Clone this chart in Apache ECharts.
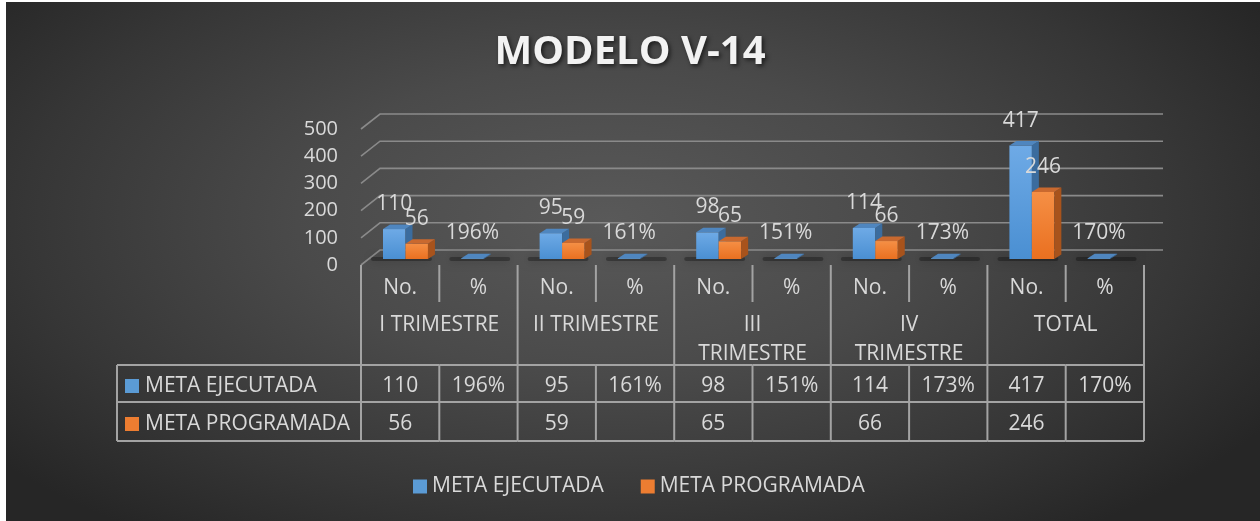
<!DOCTYPE html>
<html>
<head>
<meta charset="utf-8">
<script src="https://cdn.jsdelivr.net/npm/echarts@6/dist/echarts.min.js"></script>
<style>
  html, body { margin: 0; padding: 0; background: #ffffff; }
  #bg { position: absolute; left: 6px; top: 2px; width: 1254px; height: 519px;
        background: radial-gradient(ellipse 62% 75% at 48% 42%, #595959 0%, #4a4a4a 40%, #363636 75%, #262626 100%); }
  #main { position: absolute; left: 0; top: 0; width: 1260px; height: 521px; }
</style>
</head>
<body>
<div id="bg"></div>
<div id="main"></div>
<script>
// ---- data ----
const title = 'MODELO V-14';
const categories = ['No.', '%', 'No.', '%', 'No.', '%', 'No.', '%', 'No.', '%'];
const groups = ['I TRIMESTRE', 'II TRIMESTRE', 'III\nTRIMESTRE', 'IV\nTRIMESTRE', 'TOTAL'];
const seriesNames = ['META EJECUTADA', 'META PROGRAMADA'];
const ejecutada = [110, 1.96, 95, 1.61, 98, 1.51, 114, 1.73, 417, 1.70];
const programada = [56, null, 59, null, 65, null, 66, null, 246, null];
const yTicks = [0, 100, 200, 300, 400, 500];

// ---- styles ----
const FONT = '"Open Sans", "Noto Sans", sans-serif';
const FS = 21;
const TXT = '#d9d9d9';
const LINE = '#a3a3a3';
const GRIDC = '#8a8a8a';
const colors = [
  { front: ['#6eaae6', '#4a8fd2'], top: '#4f86bf', side: '#3b6c9e', key: '#5b9bd5' },
  { front: ['#f58f45', '#ea7020'], top: '#c9692f', side: '#a8531c', key: '#ed7d31' }
];
const DX = 7, DY = 4.5;

function isPct(i) { return categories[i] === '%'; }
function fmt(v, i) {
  if (v === null || v === undefined) return '';
  return isPct(i) ? Math.round(v * 100) + '%' : String(v);
}
const allSeries = [ejecutada, programada];

function barRender(s) {
  return function (params, api) {
    const i = api.value(0), v = api.value(1);
    const base = api.coord([i, 0]);
    const top = api.coord([i, v]);
    const bw = api.size([1, 0])[0];
    const w = bw * 0.287;
    const x0 = base[0] - bw * 0.316 + s * w;
    const x1 = x0 + w;
    const yT = Math.min(top[1], base[1] - 0.8);
    const yB = base[1];
    const c = colors[s];
    const children = [];
    if (s === 0) {
      children.push({
        type: 'rect',
        shape: { x: x0 - 12, y: yB - 2, width: w * 2 + 16, height: 4, r: 2 },
        style: { fill: 'rgba(0,0,0,0.3)', shadowBlur: 10, shadowColor: 'rgba(0,0,0,0.75)' }
      });
    }
    children.push({
      type: 'rect', shape: { x: x0, y: yT, width: w, height: yB - yT },
      style: { fill: new echarts.graphic.LinearGradient(0, 0, 0, 1, [
        { offset: 0, color: c.front[0] }, { offset: 1, color: c.front[1] }]) }
    });
    children.push({
      type: 'polygon',
      shape: { points: [[x1, yT], [x1 + DX, yT - DY], [x1 + DX, yB - DY], [x1, yB]] },
      style: { fill: c.side }
    });
    children.push({
      type: 'polygon',
      shape: { points: [[x0, yT], [x1, yT], [x1 + DX, yT - DY], [x0 + DX, yT - DY]] },
      style: { fill: c.top }
    });
    children.push({
      type: 'text',
      style: { text: fmt(allSeries[s][i], i), x: x0 + w / 2, y: yT - 25,
        align: 'center', verticalAlign: 'middle', fill: TXT, fontSize: FS, fontFamily: FONT }
    });
    return { type: 'group', children: children };
  };
}

function gridRender(params, api) {
  const v = api.value(1);
  const p = api.coord([0, v]);
  const cs = params.coordSys;
  const y = p[1];
  const x0 = cs.x, x1 = cs.x + cs.width;
  return {
    type: 'polyline',
    shape: { points: [[x0, y], [x0 + 19, y - 15], [x1 + 19, y - 15]] },
    style: { stroke: GRIDC, lineWidth: 1.6, fill: null }
  };
}

function tableRender(params, api) {
  const i = api.value(0);
  const c = api.coord([i, 0]);
  const bw = api.size([1, 0])[0];
  const xl = c[0] - bw / 2, xr = c[0] + bw / 2;
  const y0 = c[1];
  const yH = y0 + 37, yR1 = y0 + 100, yR2 = y0 + 137, yR3 = y0 + 176;
  const ls = { stroke: LINE, lineWidth: 2 };
  const ch = [];
  const vline = (x, a, b) => ch.push({ type: 'line', shape: { x1: x, y1: a, x2: x, y2: b }, style: ls });
  const hline = (a, b, y) => ch.push({ type: 'line', shape: { x1: a, y1: y, x2: b, y2: y }, style: ls });
  const text = (t, x, y, align, va) => ch.push({ type: 'text', style: { text: t, x: x, y: y,
    align: align || 'center', verticalAlign: va || 'middle', fill: TXT, fontSize: FS, fontFamily: FONT, lineHeight: 29 } });
  if (i % 2 === 0) {
    vline(xl, y0, yR3);
    text(groups[i / 2], xr, y0 + 46, 'center', 'top');
  } else {
    vline(xl, y0, yH);
    vline(xl, yR1, yR3);
  }
  if (i === categories.length - 1) vline(xr, y0, yR3);
  hline(xl, xr, yR1); hline(xl, xr, yR2); hline(xl, xr, yR3);
  text(categories[i], c[0], y0 + 23);
  text(fmt(ejecutada[i], i), c[0], y0 + 121);
  text(fmt(programada[i], i), c[0], y0 + 159);
  if (i === 0) {
    const L = 117;
    hline(L, xl, yR1); hline(L, xl, yR2); hline(L, xl, yR3);
    vline(L, yR1, yR3);
    [yR1, yR2].forEach(function (yy, k) {
      const mid = yy + (k === 0 ? 21 : 22);
      ch.push({ type: 'rect', shape: { x: 125, y: mid - 7, width: 14, height: 14 },
        style: { fill: colors[k].key } });
      text(seriesNames[k], 145, mid, 'left');
    });
  }
  return { type: 'group', children: ch };
}

const chart = echarts.init(document.getElementById('main'), null, { renderer: 'canvas' });
chart.setOption({
  animation: false,
  backgroundColor: 'transparent',
  title: {
    text: title, left: 'center', top: 28,
    textStyle: { color: '#f2f2f2', fontSize: 40, fontWeight: 'bold', fontFamily: FONT,
      textShadowColor: 'rgba(0,0,0,0.6)', textShadowBlur: 4, textShadowOffsetX: 2, textShadowOffsetY: 2 }
  },
  legend: {
    data: seriesNames, left: 408, top: 471, icon: 'rect', itemWidth: 14, itemHeight: 14, itemGap: 37,
    textStyle: { color: TXT, fontSize: FS, fontFamily: FONT }
  },
  grid: [
    { left: 361, top: 129, width: 783, height: 136 },
    { left: 368.6, top: 123, width: 783, height: 136 }
  ],
  xAxis: [
    { type: 'category', data: categories, gridIndex: 0, show: false },
    { type: 'category', data: categories, gridIndex: 1, show: false }
  ],
  yAxis: [
    { type: 'value', gridIndex: 0, min: 0, max: 500, interval: 100,
      axisLine: { show: false }, axisTick: { show: false }, splitLine: { show: false },
      axisLabel: { color: TXT, fontSize: 20, fontFamily: FONT, margin: 23 } },
    { type: 'value', gridIndex: 1, min: 0, max: 500, interval: 100, show: false, splitLine: { show: false } }
  ],
  series: [
    { type: 'custom', name: 'grid', xAxisIndex: 0, yAxisIndex: 0, z: 1, silent: true,
      data: yTicks.map(function (t) { return [0, t]; }), renderItem: gridRender },
    { type: 'custom', name: 'table', xAxisIndex: 0, yAxisIndex: 0, z: 1, silent: true,
      data: categories.map(function (c, i) { return [i, 0]; }), renderItem: tableRender },
    { type: 'custom', name: seriesNames[0], xAxisIndex: 1, yAxisIndex: 1, z: 3,
      itemStyle: { color: colors[0].key },
      data: ejecutada.map(function (v, i) { return [i, v]; }), renderItem: barRender(0) },
    { type: 'custom', name: seriesNames[1], xAxisIndex: 1, yAxisIndex: 1, z: 4,
      itemStyle: { color: colors[1].key },
      data: programada.map(function (v, i) { return v === null ? null : [i, v]; }).filter(function (d) { return d; }),
      renderItem: barRender(1) }
  ]
});
</script>
</body>
</html>
